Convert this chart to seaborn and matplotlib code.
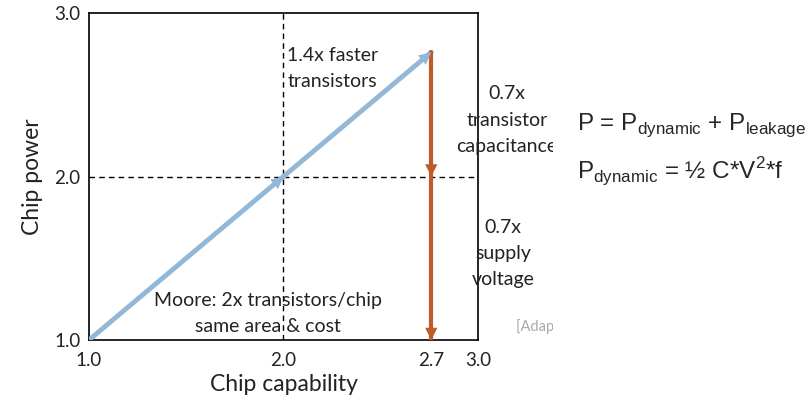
import numpy as np
import pandas as pd
import seaborn as sns
import matplotlib.pyplot as plt
from matplotlib.patches import Rectangle

# data
moore_x = [1.0, 2.0, 2.76]
moore_y = [1.0, 2.0, 2.76]
scale_x = [2.76, 2.76, 2.76]
scale_y = [2.76, 2.0, 1.0]
tick_pos = [1.0, 2.0, 2.76, 3.0]
tick_labels = ["1.0", "2.0", "2.7", "3.0"]
ytick_pos = [1.0, 2.0, 3.0]
ytick_labels = ["1.0", "2.0", "3.0"]

blue = "#93b7d6"
orange = "#c05a28"

sns.set_style("white")
plt.rcParams['font.family'] = ['Lato', 'DejaVu Sans']
plt.rcParams['mathtext.fontset'] = 'custom'
plt.rcParams['mathtext.rm'] = 'Liberation Sans'

fig = plt.figure(figsize=(8.08, 4.0), dpi=100)
ax = fig.add_axes([0.1101, 0.15, 0.4814, 0.8175])

df_m = pd.DataFrame({"x": moore_x, "y": moore_y})
df_s = pd.DataFrame({"x": scale_x, "y": scale_y})
sns.lineplot(data=df_m, x="x", y="y", color=blue, lw=3.5, ax=ax, sort=False,
             estimator=None, zorder=3)
sns.lineplot(data=df_s, x="x", y="y", color=orange, lw=3, ax=ax, sort=False,
             estimator=None, zorder=3)

# arrow heads
for xs, ys, c in [(moore_x, moore_y, blue), (scale_x, scale_y, orange)]:
    for i in range(1, len(xs)):
        ax.annotate("", xy=(xs[i], ys[i]), xytext=(xs[i - 1], ys[i - 1]),
                    arrowprops=dict(arrowstyle="-|>", color=c, lw=0, mutation_scale=22,
                                    shrinkA=0, shrinkB=0), zorder=4)

ax.axvline(2.0, color="black", lw=1, ls=(0, (4, 3)), zorder=1)
ax.axhline(2.0, color="black", lw=1, ls=(0, (4, 3)), zorder=1)

ax.set_xlim(1.0, 3.0)
ax.set_ylim(1.0, 3.0)
ax.set_xticks(tick_pos)
ax.set_xticklabels(tick_labels)
ax.set_yticks(ytick_pos)
ax.set_yticklabels(ytick_labels)
ax.tick_params(axis="x", length=0, labelsize=13.5, pad=9, colors="#222222")
ax.tick_params(axis="y", length=0, labelsize=13.5, pad=6, colors="#222222")
for s in ax.spines.values():
    s.set_color("black")
    s.set_linewidth(1.2)
ax.set_xlabel("Chip capability", fontsize=16.5, labelpad=3, color="#222222")
ax.set_ylabel("Chip power", fontsize=16.5, labelpad=8, color="#222222")

txt = dict(fontsize=14, color="#222222", ha="center", va="center", linespacing=1.65)
ax.text(2.25, 2.66, "1.4x faster\ntransistors", **txt)
ax.text(3.15, 2.345, "0.7x\ntransistor\ncapacitance", clip_on=False, **txt)
ax.text(3.13, 1.53, "0.7x\nsupply\nvoltage", clip_on=False, **txt)
ax.text(1.92, 1.16, "Moore: 2x transistors/chip\nsame area & cost", **txt)
ax.text(3.195, 1.085, "[Adapted from", fontsize=10.5, color="#aaaaaa", ha="left", va="center", clip_on=False)

# cover on the right, then the formulas
fig.patches.append(Rectangle((0.684, 0), 0.316, 1, transform=fig.transFigure,
                             facecolor="white", edgecolor="none", zorder=5))
fig.text(0.714, 0.6875, r"P = P$_{\mathrm{dynamic}}$ + P$_{\mathrm{leakage}}$",
         family="Liberation Sans", fontsize=17.5, va="center", ha="left", zorder=6)
fig.text(0.714, 0.57, r"P$_{\mathrm{dynamic}}$ = ½ C*V$^{\mathrm{2}}$*f",
         family="Liberation Sans", fontsize=17.5, va="center", ha="left", zorder=6)

plt.savefig("out.png", dpi=100)
